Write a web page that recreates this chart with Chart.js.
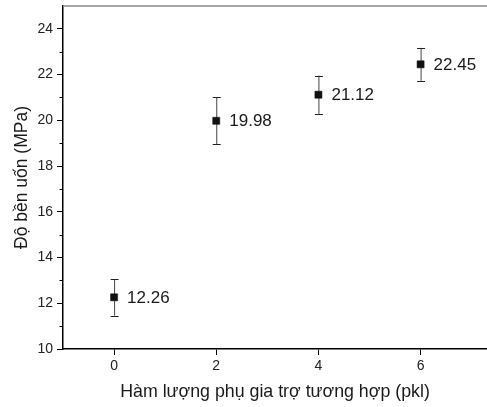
<!DOCTYPE html>
<html>
<head>
<meta charset="utf-8">
<script src="https://cdn.jsdelivr.net/npm/chart.js@4/dist/chart.umd.min.js"></script>
<style>
    html, body { margin: 0; padding: 0; background: #fff; }
    canvas { display: block; }
</style>
</head>
<body>
<canvas id="chart" width="487" height="407"></canvas>
<script>
// Data
const additive = [0, 2, 4, 6];                 // pkl
const strength = [12.26, 19.98, 21.12, 22.45]; // MPa
const strengthErr = [0.80, 1.03, 0.84, 0.72];
const xTicks = [0, 2, 4, 6];
const yMinorTicks = [11, 13, 15, 17, 19, 21, 23];

const FONT = '"Liberation Sans", Arial, sans-serif';

// Error bars, value labels, top frame line and minor ticks
const extrasPlugin = {
    id: 'extras',
    beforeDatasetsDraw(chart) {
        const { ctx, scales: { x, y } } = chart;
        ctx.save();
        ctx.lineWidth = 1;
        additive.forEach((v, i) => {
            const px = x.getPixelForValue(v);
            const top = y.getPixelForValue(strength[i] + strengthErr[i]);
            const bot = y.getPixelForValue(strength[i] - strengthErr[i]);
            ctx.strokeStyle = '#444';
            ctx.beginPath();
            ctx.moveTo(px + 0.5, top);
            ctx.lineTo(px + 0.5, bot);
            ctx.stroke();
            ctx.strokeStyle = '#222';
            ctx.beginPath();
            ctx.moveTo(px - 3.5, Math.round(top) + 0.5);
            ctx.lineTo(px + 4.5, Math.round(top) + 0.5);
            ctx.moveTo(px - 3.5, Math.round(bot) + 0.5);
            ctx.lineTo(px + 4.5, Math.round(bot) + 0.5);
            ctx.stroke();
        });
        ctx.restore();
    },
    afterDraw(chart) {
        const { ctx, chartArea, scales: { x, y } } = chart;
        ctx.save();
        // value labels
        ctx.fillStyle = '#1a1a1a';
        ctx.font = '17px ' + FONT;
        ctx.textBaseline = 'middle';
        ctx.textAlign = 'left';
        additive.forEach((v, i) => {
            ctx.fillText(strength[i].toFixed(2), x.getPixelForValue(v) + 13, y.getPixelForValue(strength[i]) + 1);
        });
        // top frame line
        ctx.strokeStyle = '#888';
        ctx.lineWidth = 1.5;
        ctx.beginPath();
        ctx.moveTo(chartArea.left, chartArea.top);
        ctx.lineTo(chartArea.right, chartArea.top);
        ctx.stroke();
        // minor y ticks
        ctx.strokeStyle = '#000';
        ctx.lineWidth = 1;
        ctx.beginPath();
        yMinorTicks.forEach((v) => {
            const py = Math.round(y.getPixelForValue(v)) + 0.5;
            ctx.moveTo(chartArea.left - 3.5, py);
            ctx.lineTo(chartArea.left, py);
        });
        ctx.stroke();
        ctx.restore();
    },
};

new Chart(document.getElementById('chart'), {
    type: 'scatter',
    data: {
        datasets: [{
            data: additive.map((v, i) => ({ x: v, y: strength[i] })),
            pointStyle: 'rect',
            pointRadius: 5,
            pointBorderWidth: 0.5,
            pointBackgroundColor: '#111',
            pointBorderColor: '#111',
        }],
    },
    options: {
        responsive: false,
        animation: false,
        layout: { autoPadding: false, padding: { top: 6, right: 0, bottom: 0, left: 0 } },
        plugins: {
            legend: { display: false },
            tooltip: { enabled: false },
        },
        scales: {
            x: {
                type: 'linear',
                min: -1,
                max: 7.3,
                afterBuildTicks: (scale) => { scale.ticks = xTicks.map((v) => ({ value: v })); },
                afterFit: (scale) => { scale.height = 58; },
                grid: { drawOnChartArea: false, tickLength: 6, tickColor: '#000' },
                border: { color: '#000', width: 1.5 },
                ticks: { color: '#222', font: { family: FONT, size: 14 }, padding: 3 },
                title: {
                    display: true,
                    text: 'Hàm lượng phụ gia trợ tương hợp (pkl)',
                    color: '#1a1a1a',
                    font: { family: FONT, size: 17.8 },
                    padding: { top: 0, bottom: 4 },
                },
            },
            y: {
                min: 10,
                max: 25,
                afterFit: (scale) => { scale.width = 63; scale.paddingTop = 0; scale.paddingBottom = 0; },
                grid: {
                    drawOnChartArea: false,
                    tickLength: 6,
                    tickColor: (c) => (c.tick && c.tick.value % 2 === 0 ? '#000' : 'rgba(0,0,0,0)'),
                },
                border: { color: '#000', width: 1.5 },
                ticks: {
                    stepSize: 1,
                    color: '#222',
                    font: { family: FONT, size: 14 },
                    padding: 4,
                    callback: (v) => (v % 2 === 0 ? v : ''),
                },
                title: {
                    display: true,
                    text: 'Độ bền uốn (MPa)',
                    color: '#1a1a1a',
                    font: { family: FONT, size: 17.5 },
                    padding: { top: 12, bottom: 0 },
                },
            },
        },
    },
    plugins: [extrasPlugin],
});
</script>
</body>
</html>
